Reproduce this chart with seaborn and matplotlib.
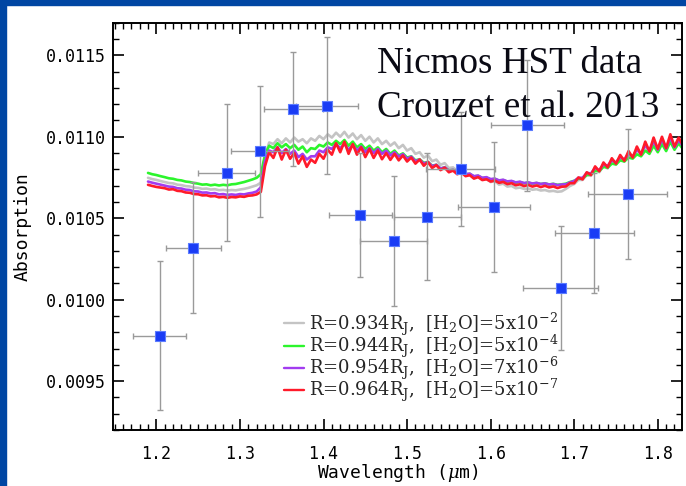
import matplotlib
matplotlib.use("Agg")
import matplotlib.pyplot as plt
import numpy as np
import seaborn as sns
from matplotlib.patches import Rectangle
from matplotlib.ticker import MultipleLocator

sns.set_theme(style="ticks")
plt.rcParams["font.family"] = ["DejaVu Sans Mono", "DejaVu Sans"]
plt.rcParams["mathtext.fontset"] = "dejavuserif"

# %%
# NICMOS transmission points (Crouzet et al. 2013)
wl_obs = [1.204, 1.244, 1.284, 1.324, 1.364, 1.404, 1.444, 1.484,
          1.524, 1.564, 1.604, 1.644, 1.684, 1.724, 1.764]
absorp_obs = [0.00978, 0.01032, 0.01078, 0.01091, 0.01117, 0.01119, 0.01052, 0.01036,
              0.01051, 0.01080, 0.01057, 0.01107, 0.01007, 0.01041, 0.01065]
yerr_obs = [0.00046, 0.00040, 0.00042, 0.00040, 0.00035, 0.00042, 0.00038, 0.00040,
            0.00039, 0.00035, 0.00040, 0.00040, 0.00038, 0.00037, 0.00040]
xerr_obs = [0.032, 0.033, 0.034, 0.035, 0.035, 0.037, 0.038, 0.040,
            0.040, 0.041, 0.043, 0.044, 0.045, 0.047, 0.047]

# model spectra, sampled every 0.005 um from 1.190 to 1.830, values in 1e-6
wave_model = np.linspace(1.190, 1.830, 129)

model_gray = [
    10748, 10740, 10735, 10728, 10722, 10716, 10714, 10706, 10703, 10697,
    10695, 10688, 10686, 10680, 10682, 10676, 10678, 10672, 10674, 10670,
    10673, 10671, 10676, 10680, 10686, 10694, 10702, 10718, 10880, 10965,
    10955, 10985, 10960, 10990, 10965, 10995, 10970, 10985, 10960, 10990,
    10975, 11005, 10985, 11015, 10995, 11025, 11000, 11030, 10995, 11020,
    10985, 11010, 10975, 11000, 10965, 10990, 10955, 10975, 10945, 10965,
    10930, 10950, 10915, 10930, 10895, 10905, 10872, 10885, 10850, 10860,
    10828, 10838, 10808, 10812, 10790, 10793, 10770, 10775, 10752, 10758,
    10738, 10742, 10722, 10728, 10706, 10712, 10694, 10698, 10684, 10688,
    10680, 10682, 10675, 10678, 10670, 10673, 10665, 10668, 10662, 10665,
    10680, 10698, 10710, 10735, 10735, 10765, 10760, 10800, 10782, 10822,
    10805, 10848, 10828, 10870, 10848, 10892, 10868, 10918, 10888, 10945,
    10905, 10970, 10920, 10980, 10925, 10995, 10935, 10980, 10940,
]
model_green = [
    10778, 10770, 10765, 10758, 10752, 10745, 10742, 10735, 10732, 10725,
    10722, 10716, 10712, 10706, 10708, 10702, 10706, 10701, 10705, 10702,
    10708, 10710, 10716, 10722, 10730, 10738, 10748, 10770, 10890, 10945,
    10930, 10960, 10935, 10955, 10930, 10950, 10920, 10940, 10905, 10930,
    10925, 10950, 10940, 10965, 10950, 10975, 10955, 10980, 10945, 10970,
    10935, 10955, 10925, 10945, 10915, 10935, 10905, 10925, 10895, 10915,
    10885, 10898, 10872, 10880, 10855, 10862, 10840, 10845, 10822, 10828,
    10805, 10812, 10792, 10796, 10780, 10784, 10768, 10771, 10756, 10760,
    10746, 10749, 10738, 10741, 10731, 10734, 10724, 10727, 10718, 10722,
    10714, 10718, 10712, 10716, 10710, 10714, 10707, 10711, 10705, 10708,
    10712, 10722, 10730, 10742, 10745, 10765, 10768, 10790, 10790, 10815,
    10810, 10835, 10830, 10855, 10848, 10872, 10866, 10892, 10880, 10915,
    10895, 10945, 10905, 10955, 10912, 10970, 10920, 10960, 10925,
]
model_purple = [
    10725, 10718, 10712, 10706, 10700, 10694, 10692, 10684, 10682, 10675,
    10673, 10665, 10664, 10657, 10658, 10652, 10654, 10646, 10648, 10643,
    10646, 10643, 10648, 10646, 10652, 10656, 10664, 10690, 10850, 10915,
    10905, 10935, 10900, 10925, 10895, 10915, 10875, 10895, 10860, 10880,
    10880, 10915, 10905, 10935, 10925, 10955, 10930, 10955, 10920, 10950,
    10915, 10940, 10905, 10930, 10900, 10925, 10895, 10915, 10885, 10905,
    10878, 10893, 10865, 10878, 10850, 10860, 10835, 10845, 10820, 10828,
    10805, 10812, 10792, 10797, 10781, 10785, 10770, 10773, 10758, 10762,
    10748, 10752, 10740, 10743, 10732, 10736, 10726, 10729, 10720, 10724,
    10716, 10720, 10713, 10717, 10710, 10714, 10707, 10710, 10703, 10707,
    10708, 10720, 10728, 10748, 10748, 10778, 10775, 10808, 10795, 10830,
    10822, 10855, 10842, 10875, 10860, 10898, 10878, 10922, 10895, 10950,
    10912, 10975, 10920, 10985, 10928, 10995, 10935, 10980, 10940,
]
model_red = [
    10705, 10698, 10692, 10688, 10684, 10676, 10678, 10668, 10666, 10658,
    10656, 10648, 10647, 10640, 10641, 10634, 10636, 10628, 10631, 10625,
    10630, 10628, 10634, 10631, 10638, 10640, 10646, 10662, 10820, 10905,
    10870, 10935, 10860, 10920, 10865, 10900, 10835, 10880, 10815, 10860,
    10840, 10895, 10865, 10920, 10890, 10960, 10905, 10970, 10895, 10955,
    10890, 10935, 10875, 10925, 10870, 10915, 10862, 10900, 10858, 10895,
    10855, 10885, 10848, 10872, 10835, 10860, 10822, 10845, 10808, 10826,
    10795, 10810, 10782, 10792, 10770, 10780, 10758, 10764, 10743, 10752,
    10734, 10739, 10725, 10731, 10717, 10723, 10709, 10715, 10702, 10708,
    10697, 10704, 10694, 10701, 10691, 10699, 10689, 10695, 10685, 10693,
    10695, 10715, 10715, 10750, 10738, 10782, 10765, 10818, 10788, 10842,
    10812, 10868, 10835, 10888, 10852, 10912, 10872, 10940, 10890, 10970,
    10910, 10995, 10925, 11000, 10930, 11015, 10940, 10995, 10948,
]

model_labels = [
    r"R=0.934R$_\mathrm{J}$,  [H$_2$O]=5x10$^{-2}$",
    r"R=0.944R$_\mathrm{J}$,  [H$_2$O]=5x10$^{-4}$",
    r"R=0.954R$_\mathrm{J}$,  [H$_2$O]=7x10$^{-6}$",
    r"R=0.964R$_\mathrm{J}$,  [H$_2$O]=5x10$^{-7}$",
]
model_colors = ["#c4c4c4", "#2cf52c", "#a23cf0", "#ff1a2a"]

# %%
fig = plt.figure(figsize=(6.86, 4.86), dpi=100)
ax = fig.add_axes([0.1646, 0.1152, 0.8296, 0.8381])

for vals, col, lab in zip([model_gray, model_green, model_purple, model_red], model_colors, model_labels):
    sns.lineplot(x=wave_model, y=np.array(vals) * 1e-6, color=col, lw=1.9, label=lab,
                 sort=False, estimator=None, ax=ax, zorder=2)

ax.errorbar(wl_obs, absorp_obs, xerr=xerr_obs, yerr=yerr_obs, fmt="none",
            ecolor="#9a9a9a", elinewidth=1.0, capsize=2.5, capthick=1.0, zorder=3)
sns.scatterplot(x=wl_obs, y=absorp_obs, marker="s", s=48, color="#1a3cf5",
                edgecolor="#5c7cff", linewidth=0.8, legend=False, ax=ax, zorder=4)

ax.set_xlim(1.148, 1.829)
ax.set_ylim(0.0092, 0.0117)
ax.xaxis.set_major_locator(MultipleLocator(0.1))
ax.xaxis.set_minor_locator(MultipleLocator(0.01))
ax.yaxis.set_major_locator(MultipleLocator(0.0005))
ax.yaxis.set_minor_locator(MultipleLocator(0.0001))
ax.xaxis.set_major_formatter(plt.FormatStrFormatter("%.1f"))
ax.yaxis.set_major_formatter(plt.FormatStrFormatter("%.4f"))
ax.tick_params(which="both", direction="in", top=True, right=True, colors="black",
               labelcolor="black", labelsize=12)
ax.tick_params(which="major", length=8, width=1.2)
ax.tick_params(which="minor", length=4, width=1.0)
ax.tick_params(axis="x", pad=11)
ax.tick_params(axis="y", pad=5)
for sp in ax.spines.values():
    sp.set_color("black")
    sp.set_linewidth(1.4)

ax.set_xlabel(r"Wavelength ($\mu$m)", fontsize=13, color="black", labelpad=-1)
ax.set_ylabel("Absorption", fontsize=13, color="black", labelpad=10)

ax.text(0.464, 0.877, "Nicmos HST data", transform=ax.transAxes, family="Liberation Serif",
        fontsize=26.7, color="#0a0a14", va="baseline")
ax.text(0.464, 0.769, "Crouzet et al. 2013", transform=ax.transAxes, family="Liberation Serif",
        fontsize=26.7, color="#0a0a14", va="baseline")

leg = ax.legend(loc="upper left", bbox_to_anchor=(0.288, 0.311), frameon=False,
                prop={"family": "DejaVu Serif", "size": 13}, handlelength=1.1,
                handletextpad=0.3, labelspacing=-0.29, borderaxespad=0)
for line in leg.get_lines():
    line.set_linewidth(1.7)

# slide frame strips
blue = "#0046a3"
fig.patches.append(Rectangle((0, 0), 6 / 686, 1, transform=fig.transFigure, color=blue, zorder=0))
fig.patches.append(Rectangle((0, 1 - 5 / 486), 1, 5 / 486, transform=fig.transFigure, color=blue, zorder=0))

fig.savefig("out.png", dpi=100)
